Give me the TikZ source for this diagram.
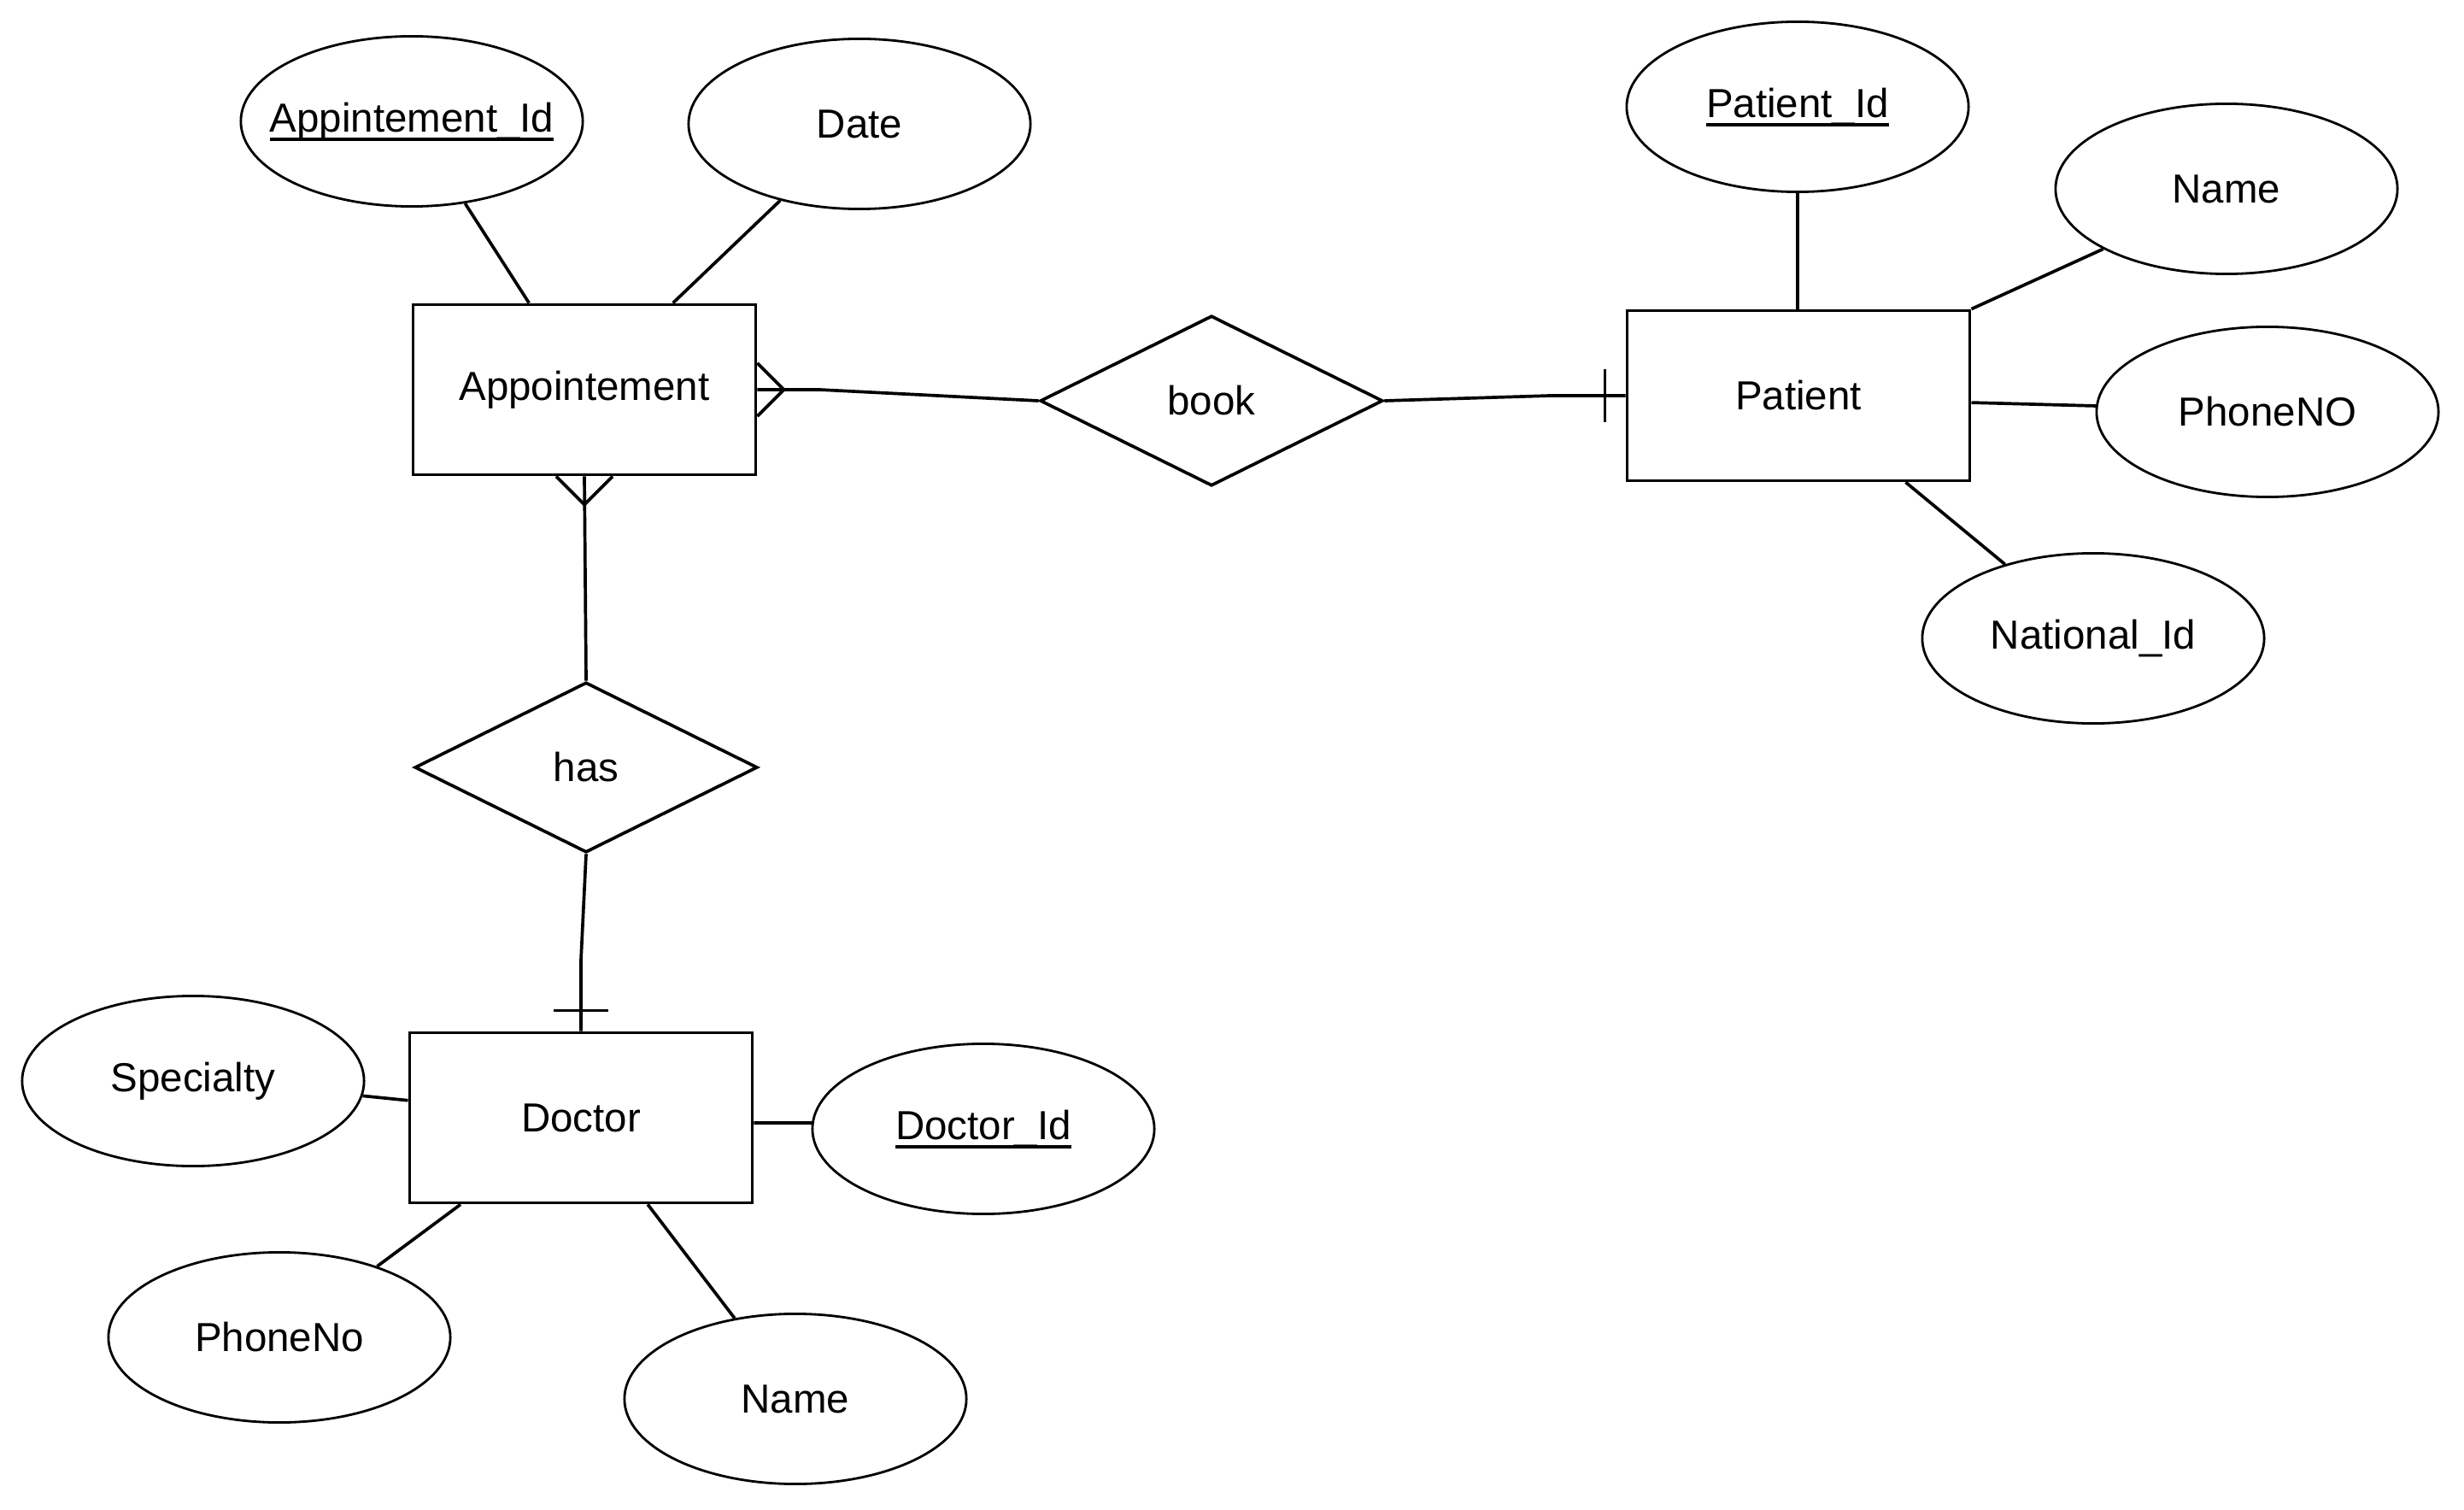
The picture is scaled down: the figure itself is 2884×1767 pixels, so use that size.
\documentclass[tikz,border=0pt]{standalone}
\usepackage{fontspec}
\setmainfont{Liberation Sans}
\usetikzlibrary{shapes.geometric,calc}
% underlined key attribute
\newcommand\keytext[1]{\setbox0\hbox{#1}\rlap{\smash{\rule[-0.22em]{\wd0}{0.075em}}}\box0}
\begin{document}
\begin{tikzpicture}[x=0.01cm,y=-0.01cm,
  every node/.style={font=\fontsize{13.5pt}{16pt}\selectfont},
  entity/.style={draw,rectangle,minimum width=4.01cm,minimum height=1.99cm,inner sep=0pt,line width=1.05pt},
  attr/.style={draw,ellipse,minimum width=4.0cm,minimum height=1.99cm,inner sep=0pt,line width=0.8pt},
  rel/.style={draw,diamond,minimum width=4.01cm,minimum height=1.99cm,inner sep=0pt,line width=1.05pt},
  link/.style={line width=1.05pt},
]
\useasboundingbox (0,0) rectangle (2884,1767);
\fill[white] (0,0) rectangle (2884,1767);

% entities
\node[entity] (app) at (684,456) {Appointement};
\node[entity] (pat) at (2105,463) {Patient};
\node[entity] (doc) at (680,1308) {Doctor};

% relationships
\node[rel] (book) at (1418,469) {book};
\node[rel] (has) at (686,898) {has};

% attributes (labels take no width so every ellipse keeps the same size)
\node[attr] (aid) at (482,142) {\makebox[0pt]{\keytext{Appintement\_Id}}};
\node[attr] (date) at (1006,145) {\makebox[0pt]{Date}};
\node[attr] (pid) at (2104,125) {\makebox[0pt]{\keytext{Patient\_Id}}};
\node[attr] (pname) at (2606,221) {\makebox[0pt]{Name}};
\node[attr] (pphone) at (2654,482) {\makebox[0pt]{PhoneNO}};
\node[attr] (natid) at (2450,747) {\makebox[0pt]{National\_Id}};
\node[attr] (spec) at (226,1265) {\makebox[0pt]{Specialty}};
\node[attr] (did) at (1151,1321) {\makebox[0pt]{\keytext{Doctor\_Id}}};
\node[attr] (dphone) at (327,1565) {\makebox[0pt]{PhoneNo}};
\node[attr] (dname) at (931,1637) {\makebox[0pt]{Name}};

% attribute links
\draw[link] (aid.-57) -- ($(app.north west)!0.34!(app.north east)$);
\draw[link] (date.224) -- ($(app.north west)!0.756!(app.north east)$);
\draw[link] (pid.south) -- (pid.south |- pat.north);
\draw[link] (pname.206) -- (pat.north east);
\draw[link] ($(pat.north east)!0.54!(pat.south east)$) -- (pphone.178);
\draw[link] ($(pat.south west)!0.81!(pat.south east)$) -- (natid.140);
\draw[link] (spec.-5) -- ($(doc.north west)!0.4!(doc.south west)$);
\draw[link] ($(doc.north east)!0.53!(doc.south east)$) -- (did.178);
\draw[link] (dphone.36) -- ($(doc.south west)!0.152!(doc.south east)$);
\draw[link] ($(doc.south west)!0.693!(doc.south east)$) -- (dname.127.5);

% Appointement -- book -- Patient
\draw[link] (app.east) -- ($(app.east)+(73,0)$) -- (book.west);
\draw[link] ($(app.east)+(0,-31)$) -- ($(app.east)+(31,0)$) -- ($(app.east)+(0,31)$);
\draw[link] (book.east) -- ($(pat.west)+(-88,0)$) -- (pat.west);
\draw[link] ($(pat.west)+(-24,-31)$) -- ($(pat.west)+(-24,31)$);

% Appointement -- has -- Doctor
\draw[link] (app.south) -- (has.north);
\draw[link] ($(app.south)+(-33,0)$) -- ($(app.south)+(0,33)$) -- ($(app.south)+(33,0)$);
\draw[link] (has.south) -- ($(doc.north)+(0,-83)$) -- (doc.north);
\draw[link] ($(doc.north)+(-32,-24)$) -- ($(doc.north)+(32,-24)$);
\end{tikzpicture}
\end{document}
